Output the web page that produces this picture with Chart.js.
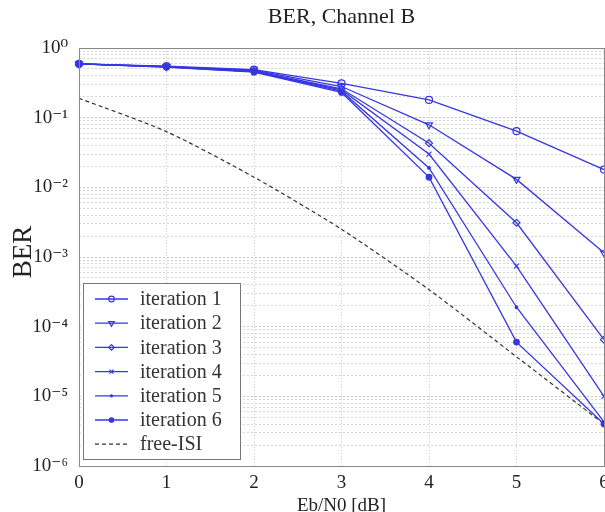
<!DOCTYPE html>
<html>
<head>
<meta charset="utf-8">
<script src="https://cdn.jsdelivr.net/npm/chart.js@4"></script>
<style>
  html, body { margin: 0; padding: 0; background: #fff; overflow: hidden; }
  #wrap { width: 640px; height: 520px; }
</style>
</head>
<body>
<div id="wrap"><canvas id="ber" width="640" height="520"></canvas></div>
<script>
// values
const ebn0 = [0, 1, 2, 3, 4, 5, 6];
const iteration1 = [0.59, 0.55, 0.49, 0.31, 0.18, 0.064, 0.018];
const iteration2 = [0.59, 0.54, 0.48, 0.28, 0.079, 0.013, 0.00115];
const iteration3 = [0.59, 0.54, 0.47, 0.26, 0.043, 0.0031, 6.5e-5];
const iteration4 = [0.59, 0.54, 0.46, 0.25, 0.030, 7.4e-4, 1.0e-5];
const iteration5 = [0.59, 0.53, 0.46, 0.24, 0.019, 1.9e-4, 4.3e-6];
const iteration6 = [0.59, 0.53, 0.45, 0.23, 0.014, 6.0e-5, 4.0e-6];
const freeIsi = [0.19, 0.063, 0.014, 0.0025, 3.4e-4, 3.7e-5, 4.0e-6];

const seriesNames = ['iteration 1', 'iteration 2', 'iteration 3', 'iteration 4', 'iteration 5', 'iteration 6', 'free-ISI'];
const xTicks = [0, 1, 2, 3, 4, 5, 6];
const yDecades = [1e-6, 1e-5, 1e-4, 1e-3, 1e-2, 1e-1, 1];
const yDecadeLabels = ['10⁻⁶', '10⁻⁵', '10⁻⁴', '10⁻³', '10⁻²', '10⁻¹', '10⁰'];

const BLUE = 'rgb(55,55,225)';
const SERIF = '"Liberation Serif", "DejaVu Serif", serif';

const pts = (ys) => ebn0.map((x, i) => ({ x: x, y: ys[i] }));

function blueSeries(label, ys, style, extra) {
    return Object.assign({
        label: label,
        data: pts(ys),
        borderColor: BLUE,
        borderWidth: 1.3,
        pointStyle: style,
        pointRadius: 3.5,
        pointBorderWidth: 1.2,
        pointBorderColor: BLUE,
        pointBackgroundColor: 'rgba(0,0,0,0)',
        tension: 0,
        clip: false
    }, extra || {});
}

const datasets = [
    blueSeries(seriesNames[0], iteration1, 'circle'),
    blueSeries(seriesNames[1], iteration2, 'triangle', { pointRotation: 180, pointRadius: 4 }),
    blueSeries(seriesNames[2], iteration3, 'rectRot'),
    blueSeries(seriesNames[3], iteration4, 'crossRot'),
    blueSeries(seriesNames[4], iteration5, 'circle', { pointRadius: 1.3, pointBackgroundColor: BLUE }),
    blueSeries(seriesNames[5], iteration6, 'circle', { pointRadius: 2.8, pointBackgroundColor: BLUE }),
    {
        label: seriesNames[6],
        data: pts(freeIsi),
        borderColor: '#333',
        borderWidth: 1.2,
        borderDash: [4, 3],
        pointRadius: 0,
        tension: 0.25,
        clip: false
    }
];

function isDecade(v) {
    return yDecades.findIndex(d => Math.abs(v / d - 1) < 1e-6);
}

// axes frame, title, axis titles and the boxed legend
const decorations = {
    id: 'decorations',
    afterDraw(chart) {
        const ctx = chart.ctx;
        const a = chart.chartArea;
        ctx.save();
        ctx.strokeStyle = '#888';
        ctx.lineWidth = 1;
        ctx.setLineDash([]);
        ctx.strokeRect(a.left + 0.5, a.top + 0.5, a.right - a.left, a.bottom - a.top);

        ctx.fillStyle = '#222';
        ctx.textAlign = 'center';
        ctx.textBaseline = 'middle';
        ctx.font = '22px ' + SERIF;
        ctx.fillText('BER, Channel B', (a.left + a.right) / 2, 17);
        ctx.font = '19px ' + SERIF;
        ctx.fillText('Eb/N0 [dB]', (a.left + a.right) / 2, 506);
        ctx.save();
        ctx.translate(24, 252);
        ctx.rotate(-Math.PI / 2);
        ctx.font = '27px ' + SERIF;
        ctx.fillText('BER', 0, 0);
        ctx.restore();

        // legend
        const bx = 83, by = 283, bw = 157, bh = 176;
        ctx.fillStyle = '#fff';
        ctx.fillRect(bx, by, bw, bh);
        ctx.strokeStyle = '#777';
        ctx.strokeRect(bx + 0.5, by + 0.5, bw, bh);
        chart.data.datasets.forEach((ds, i) => {
            const y = 299 + i * 24.2;
            ctx.save();
            ctx.strokeStyle = ds.borderColor;
            ctx.lineWidth = ds.borderWidth;
            ctx.setLineDash(ds.borderDash || []);
            ctx.beginPath();
            ctx.moveTo(95, y);
            ctx.lineTo(128, y);
            ctx.stroke();
            ctx.restore();
            if (ds.pointRadius > 0) {
                ctx.save();
                ctx.strokeStyle = ds.pointBorderColor;
                ctx.fillStyle = ds.pointBackgroundColor;
                ctx.lineWidth = ds.pointBorderWidth;
                Chart.helpers.drawPoint(ctx, {
                    pointStyle: ds.pointStyle,
                    rotation: ds.pointRotation || 0,
                    radius: ds.pointRadius * 0.8,
                    borderWidth: ds.pointBorderWidth
                }, 111.5, y);
                ctx.restore();
            }
            ctx.fillStyle = '#333';
            ctx.textAlign = 'left';
            ctx.font = '20px ' + SERIF;
            ctx.fillText(ds.label, 140, y + 1);
        });
        ctx.restore();
    }
};

new Chart(document.getElementById('ber'), {
    type: 'line',
    data: { datasets: datasets },
    options: {
        responsive: false,
        animation: false,
        devicePixelRatio: 1,
        layout: { padding: { left: 0, top: 48, right: 36, bottom: 8 } },
        plugins: {
            legend: { display: false },
            tooltip: { enabled: false }
        },
        scales: {
            x: {
                type: 'linear',
                min: xTicks[0],
                max: xTicks[xTicks.length - 1],
                afterBuildTicks: (scale) => { scale.ticks = xTicks.map(v => ({ value: v })); },
                afterFit: (scale) => { scale.height = 46; },
                ticks: {
                    padding: 6,
                    color: '#222',
                    font: { family: SERIF, size: 19 }
                },
                grid: { color: 'rgba(0,0,0,0.2)', drawTicks: false },
                border: { display: false, dash: [1, 2] }
            },
            y: {
                type: 'logarithmic',
                min: yDecades[0],
                max: yDecades[yDecades.length - 1],
                afterBuildTicks: (scale) => {
                    const list = [];
                    for (let i = 0; i < yDecades.length - 1; i++) {
                        for (let k = 1; k <= 9; k++) list.push({ value: k * yDecades[i] });
                    }
                    list.push({ value: yDecades[yDecades.length - 1] });
                    scale.ticks = list;
                },
                afterFit: (scale) => { scale.width = 79; },
                ticks: {
                    autoSkip: false,
                    padding: 11,
                    color: '#222',
                    font: { family: SERIF, size: 19 },
                    callback: (v) => {
                        const i = isDecade(v);
                        return i >= 0 ? yDecadeLabels[i] : '';
                    }
                },
                grid: {
                    drawTicks: false,
                    color: (c) => (c.tick && isDecade(c.tick.value) >= 0) ? 'rgba(0,0,0,0.22)' : 'rgba(0,0,0,0.16)'
                },
                border: { display: false, dash: [2, 2] }
            }
        }
    },
    plugins: [decorations]
});
</script>
</body>
</html>
